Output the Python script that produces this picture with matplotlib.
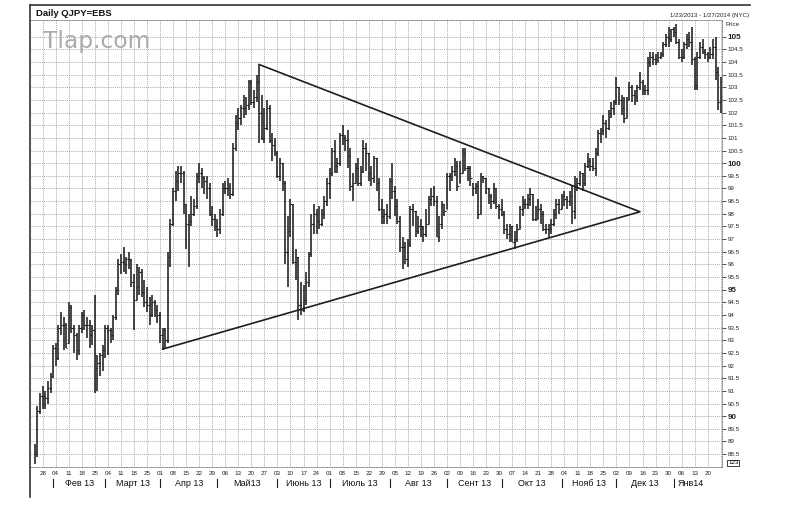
import matplotlib
matplotlib.use("Agg")
import matplotlib.pyplot as plt
from matplotlib.lines import Line2D
import numpy as np
import pandas as pd

plt.rcParams['font.family'] = ['Liberation Sans', 'DejaVu Sans']

# trading days on the chart (Mon-Fri)
dates = pd.bdate_range('2013-01-23', '2014-01-27')

# daily high / low / close, one line per week
high = [88.9, 90.4, 90.9,
        91.2, 91.0, 91.4, 91.7, 92.8,       # Jan 28
        92.9, 93.6, 94.1, 93.9, 93.7,       # Feb 4
        94.5, 94.4, 93.6, 93.3, 93.6,       # Feb 11
        94.1, 94.2, 93.9, 93.8, 93.6,       # Feb 18
        94.8, 92.4, 92.5, 92.8, 93.6,       # Feb 25
        93.6, 93.5, 94.0, 95.1, 96.2,       # Mar 4
        96.4, 96.7, 96.3, 96.5, 96.2,       # Mar 11
        95.6, 96.0, 95.9, 95.8, 95.4,       # Mar 18
        95.1, 94.7, 94.8, 94.6, 94.4,       # Mar 25
        94.1, 93.5, 93.5, 96.5, 97.8,       # Apr 1
        99.0, 99.7, 99.9, 99.9, 99.7,       # Apr 8
        98.4, 98.0, 98.7, 98.6, 99.6,       # Apr 15
        100.0, 99.8, 99.5, 99.5, 99.2,      # Apr 22
        98.3, 98.0, 97.8, 98.2, 99.2,       # Apr 29
        99.3, 99.4, 99.2, 100.8, 101.9,     # May 6
        102.2, 102.3, 102.7, 102.6, 103.3,  # May 13
        103.3, 102.9, 103.5, 103.9, 102.7,  # May 20
        102.2, 102.5, 102.3, 101.2, 101.0,  # May 27
        100.5, 100.2, 100.0, 99.3, 97.9,    # Jun 3
        98.6, 98.4, 96.6, 96.3, 95.3,       # Jun 10
        95.2, 95.7, 96.5, 98.0, 98.4,       # Jun 17
        98.2, 98.3, 98.2, 98.7, 99.4,       # Jun 24
        99.8, 100.6, 100.9, 100.2, 101.2,   # Jul 1
        101.5, 101.1, 101.3, 100.6, 99.6,   # Jul 8
        100.0, 100.2, 99.9, 100.9, 100.8,   # Jul 15
        100.4, 99.9, 100.3, 100.2, 99.4,    # Jul 22
        98.6, 98.2, 98.4, 99.4, 100.0,      # Jul 29
        99.1, 98.6, 97.9, 97.1, 96.9,       # Aug 5
        97.0, 98.3, 98.4, 98.1, 97.9,       # Aug 12
        97.8, 97.5, 98.2, 98.7, 99.0,       # Aug 19
        99.1, 98.7, 97.9, 98.5, 98.4,       # Aug 26
        99.6, 99.6, 99.9, 100.2, 100.1,     # Sep 2
        100.1, 100.6, 100.6, 99.9, 99.9,    # Sep 9
        99.2, 99.2, 99.3, 99.6, 99.5,       # Sep 16
        99.4, 99.0, 98.8, 99.2, 99.0,       # Sep 23
        98.4, 98.6, 98.1, 97.6, 97.6,       # Sep 30
        97.5, 97.3, 97.6, 98.3, 98.7,       # Oct 7
        98.6, 98.8, 99.0, 98.8, 98.3,       # Oct 14
        98.6, 98.4, 98.1, 97.6, 97.6,       # Oct 21
        97.8, 98.2, 98.6, 98.6, 98.8,       # Oct 28
        98.9, 98.7, 98.9, 99.1, 99.5,       # Nov 4
        99.4, 99.7, 99.6, 100.0, 100.4,     # Nov 11
        100.2, 100.2, 100.6, 101.3, 101.4,  # Nov 18
        101.9, 101.7, 102.1, 102.4, 102.5,  # Nov 25
        103.4, 103.0, 102.7, 102.6, 102.6,  # Dec 2
        103.2, 103.1, 102.9, 103.1, 103.6,  # Dec 9
        103.3, 103.1, 104.2, 104.4, 104.4,  # Dec 16
        104.3, 104.4, 104.4, 104.8, 105.1,  # Dec 23
        105.4, 105.3, 105.4, 105.5, 104.9,  # Dec 30
        104.5, 104.8, 105.1, 105.2, 105.4,  # Jan 6
        104.2, 104.4, 104.8, 104.9, 104.5,  # Jan 13
        104.4, 104.6, 104.9, 105.0, 103.8,  # Jan 20
        103.4]                              # Jan 27

low = [88.1, 88.4, 90.1,
       90.3, 90.3, 90.5, 90.9, 91.5,
       92.0, 92.2, 93.2, 92.6, 92.7,
       92.9, 93.3, 92.5, 92.2, 92.4,
       93.3, 93.4, 93.1, 92.7, 92.8,
       90.9, 91.0, 91.6, 91.8, 92.3,
       92.4, 92.9, 93.0, 93.8, 94.8,
       95.6, 95.7, 95.6, 95.8, 95.1,
       93.4, 94.6, 94.8, 94.7, 94.3,
       94.1, 93.6, 93.9, 93.9, 93.7,
       92.9, 92.6, 92.7, 92.9, 95.9,
       97.5, 98.5, 98.9, 99.2, 98.0,
       96.6, 95.9, 97.5, 97.9, 98.2,
       99.2, 99.0, 98.8, 98.6, 97.9,
       97.5, 97.3, 97.1, 97.2, 97.9,
       98.8, 98.7, 98.6, 98.7, 100.5,
       101.3, 101.5, 101.8, 101.9, 102.1,
       102.3, 102.2, 102.4, 100.8, 100.9,
       100.8, 101.3, 100.8, 100.1, 100.3,
       99.4, 99.3, 98.9, 96.0, 95.1,
       97.1, 96.0, 95.4, 93.8, 94.0,
       94.1, 94.4, 95.1, 96.3, 97.2,
       97.2, 97.4, 97.5, 97.8, 98.3,
       98.6, 99.5, 99.6, 99.6, 99.9,
       100.7, 100.5, 99.8, 98.9, 98.5,
       99.2, 99.1, 99.1, 99.6, 99.7,
       99.3, 99.1, 99.2, 98.9, 98.1,
       97.6, 97.6, 97.6, 97.8, 98.6,
       97.9, 97.6, 96.5, 95.8, 96.0,
       95.9, 96.7, 97.5, 97.1, 97.2,
       97.1, 96.9, 97.1, 97.6, 98.3,
       98.3, 97.1, 96.9, 97.4, 97.9,
       98.2, 98.9, 99.3, 99.5, 98.9,
       99.2, 99.6, 99.7, 99.3, 99.1,
       98.7, 98.8, 97.8, 98.0, 99.2,
       98.8, 98.4, 98.2, 98.4, 98.2,
       97.8, 97.9, 97.2, 97.0, 96.9,
       96.9, 96.6, 96.9, 97.4, 97.9,
       98.2, 98.2, 98.3, 97.7, 97.7,
       97.8, 97.6, 97.3, 97.2, 97.1,
       97.2, 97.5, 97.8, 98.0, 98.2,
       98.3, 98.2, 98.3, 97.6, 97.8,
       98.9, 99.1, 98.9, 99.1, 99.8,
       99.7, 99.7, 99.5, 100.3, 100.8,
       101.1, 101.0, 101.3, 101.8, 101.9,
       102.3, 102.3, 101.9, 101.6, 101.8,
       102.5, 102.4, 102.3, 102.4, 102.9,
       102.7, 102.7, 102.7, 103.8, 103.9,
       103.9, 104.0, 104.1, 104.2, 104.6,
       104.6, 104.8, 105.0, 104.7, 104.1,
       104.0, 104.1, 104.5, 104.6, 103.9,
       102.9, 102.9, 104.1, 104.3, 104.1,
       104.0, 104.1, 104.1, 103.3, 102.1,
       102.0]

close = [88.6, 90.2, 90.8,
         90.8, 90.7, 91.1, 91.6, 92.7,
         92.3, 93.5, 93.6, 93.6, 92.7,
         94.3, 93.5, 93.2, 92.6, 93.5,
         94.0, 93.6, 93.6, 93.2, 93.4,
         91.9, 92.1, 92.4, 92.6, 93.5,
         93.4, 93.2, 93.9, 95.0, 96.0,
         96.1, 96.0, 96.2, 96.2, 95.3,
         94.6, 95.1, 95.7, 94.9, 94.5,
         94.4, 94.0, 94.5, 94.2, 94.0,
         93.2, 93.4, 93.0, 96.3, 97.6,
         98.9, 99.3, 99.6, 99.6, 98.4,
         97.6, 97.7, 98.0, 98.3, 99.5,
         99.6, 99.4, 99.3, 99.0, 98.0,
         97.8, 97.5, 97.4, 98.0, 99.0,
         99.0, 99.0, 98.8, 100.6, 101.6,
         101.8, 102.2, 102.2, 102.3, 103.2,
         102.4, 102.6, 103.2, 102.0, 101.0,
         101.4, 102.2, 100.9, 100.7, 100.4,
         99.5, 100.0, 99.2, 96.5, 97.3,
         98.4, 96.1, 96.3, 94.4, 94.2,
         94.6, 95.3, 96.4, 97.6, 98.0,
         97.7, 97.6, 98.0, 98.5, 99.2,
         99.6, 100.5, 99.9, 100.0, 101.1,
         101.0, 100.9, 100.3, 99.1, 99.2,
         99.8, 99.2, 99.7, 100.6, 100.4,
         99.6, 99.4, 100.2, 99.2, 98.2,
         97.9, 98.0, 97.9, 99.3, 98.9,
         98.3, 97.7, 96.7, 96.7, 96.2,
         96.8, 98.2, 98.1, 97.3, 97.5,
         97.5, 97.2, 97.6, 98.6, 98.7,
         98.5, 97.1, 97.6, 98.4, 98.1,
         99.5, 99.5, 99.7, 99.9, 99.1,
         99.6, 100.4, 99.8, 99.8, 99.4,
         99.0, 99.1, 98.0, 99.5, 99.4,
         99.0, 98.7, 98.5, 99.0, 98.3,
         98.2, 98.0, 97.4, 97.2, 97.5,
         96.9, 97.0, 97.4, 98.2, 98.4,
         98.4, 98.6, 98.8, 97.8, 97.8,
         98.2, 98.0, 97.4, 97.4, 97.4,
         97.6, 98.0, 98.4, 98.2, 98.7,
         98.6, 98.5, 98.7, 98.1, 99.1,
         99.2, 99.6, 99.2, 99.9, 100.1,
         99.9, 99.8, 100.4, 101.2, 101.3,
         101.6, 101.4, 102.0, 102.2, 102.4,
         103.0, 102.5, 102.2, 101.8, 102.5,
         103.0, 102.7, 102.6, 103.0, 103.2,
         102.9, 102.9, 104.0, 104.2, 104.1,
         104.0, 104.2, 104.3, 104.7, 105.0,
         104.9, 105.3, 105.2, 104.8, 104.2,
         104.2, 104.7, 104.9, 104.8, 104.1,
         103.1, 104.2, 104.6, 104.4, 104.3,
         104.2, 104.3, 104.6, 103.6, 102.4,
         102.6]

# triangle drawn on the chart: start of lower side, apex, start of upper side
tri_dates = ['2013-04-02', '2013-12-13', '2013-05-23']
tri_prices = [92.65, 98.08, 103.9]

month_names = ['Фев 13', 'Март 13', 'Апр 13', 'Май13', 'Июнь 13', 'Июль 13',
               'Авг 13', 'Сент 13', 'Окт 13', 'Нояб 13', 'Дек 13', 'Янв14']

price_ticks = np.arange(88.5, 105.01, 0.5)

assert len(high) == len(low) == len(close) == len(dates)
high = np.array(high)
low = np.array(low)
close = np.array(close)
# FX trades round the clock: open ~ previous close
opn = np.clip(np.r_[88.5, close[:-1]], low, high)
x = np.arange(len(dates))

# layout in pixels
W, H = 789, 509
L, R, T, B = 30.5, 722, 20, 467
fig = plt.figure(figsize=(W / 100, H / 100), dpi=100)
ax = fig.add_axes([L / W, 1 - B / H, (R - L) / W, (B - T) / H])

ink = '#1e1e1e'
ax.vlines(x, low, high, color=ink, lw=1.15, zorder=3)
ax.hlines(opn, x - 0.5, x, color=ink, lw=0.8, zorder=3)
ax.hlines(close, x, x + 0.5, color=ink, lw=0.8, zorder=3)

tri_x = [dates.get_loc(pd.Timestamp(d)) for d in tri_dates]
ax.plot(tri_x, tri_prices, color=ink, lw=1.2, zorder=4)

ax.set_xlim(-1.68, 263.47)
ax.set_ylim(87.99, 105.66)

mondays = x[dates.dayofweek == 0]
ax.set_xticks(mondays)
ax.set_xticklabels([])
ax.tick_params(axis='x', length=0)

ax.yaxis.tick_right()
ax.set_yticks(price_ticks)
ax.set_yticklabels([f'{v:g}' for v in price_ticks])
ax.tick_params(axis='y', length=3, width=0.6, pad=1, labelsize=4.5,
               color='#333333', labelcolor='#222222')
for lbl, v in zip(ax.get_yticklabels(), price_ticks):
    if v % 5 == 0:
        lbl.set_fontweight('bold')
        lbl.set_fontsize(5.8)

ax.grid(True, color='#8c8c8c', lw=0.5, ls=(0, (1.5, 1.5)))
ax.set_axisbelow(True)
for side in ['top', 'bottom', 'right']:
    ax.spines[side].set_linestyle((0, (1.5, 1.5)))
    ax.spines[side].set_color('#777777')
    ax.spines[side].set_linewidth(0.6)
ax.spines['left'].set_visible(False)

# bottom date labels
trans = ax.get_xaxis_transform()


def yf(py):
    return (B - py) / (B - T)


labelled = mondays[:-1]   # the last Monday sits on the price axis, unlabelled
for i in labelled:
    ax.text(i, yf(473.5), dates[i].strftime('%d'), transform=trans,
            ha='center', va='center', fontsize=4.5, color='#222222')

starts = [i for i in range(1, len(dates)) if dates[i].month != dates[i - 1].month]
edges = starts + [labelled[-1]]
for s in starts:
    ax.add_line(Line2D([s, s], [yf(479), yf(487)], transform=trans,
                       color=ink, lw=0.8, clip_on=False))
for name, a, b in zip(month_names, edges[:-1], edges[1:]):
    ax.text((a + b) / 2, yf(483.5), name, transform=trans, ha='center',
            va='center', fontsize=6.5, color='#111111')

# frame and header texts
fig.add_artist(Line2D([30 / W, 750 / W], [1 - 5 / H, 1 - 5 / H],
                      color='#333333', lw=1.2))
fig.add_artist(Line2D([30 / W, 30 / W], [1 - 5 / H, 1 - 497 / H],
                      color='#333333', lw=1.2))
fig.text(36 / W, 1 - 13.5 / H, 'Daily QJPY=EBS', fontsize=6.8,
         fontweight='bold', va='center', color='#111111')
fig.text(749 / W, 1 - 15 / H, '1/23/2013 - 1/27/2014 (NYC)', fontsize=4.4,
         ha='right', va='center', color='#222222')
fig.text(725 / W, 1 - 25 / H, 'Price', fontsize=4.5, va='center',
         color='#222222')
fig.text(43 / W, 1 - 48 / H, 'Tlap.com', fontsize=16.8, family='DejaVu Sans',
         color='#acacac', va='baseline', zorder=10)
fig.text(728 / W, 1 - 463 / H, '123', fontsize=4.5, va='center',
         bbox=dict(boxstyle='square,pad=0.15', fc='white', ec=ink, lw=0.6))

fig.savefig('out.png', dpi=100, facecolor='white')
